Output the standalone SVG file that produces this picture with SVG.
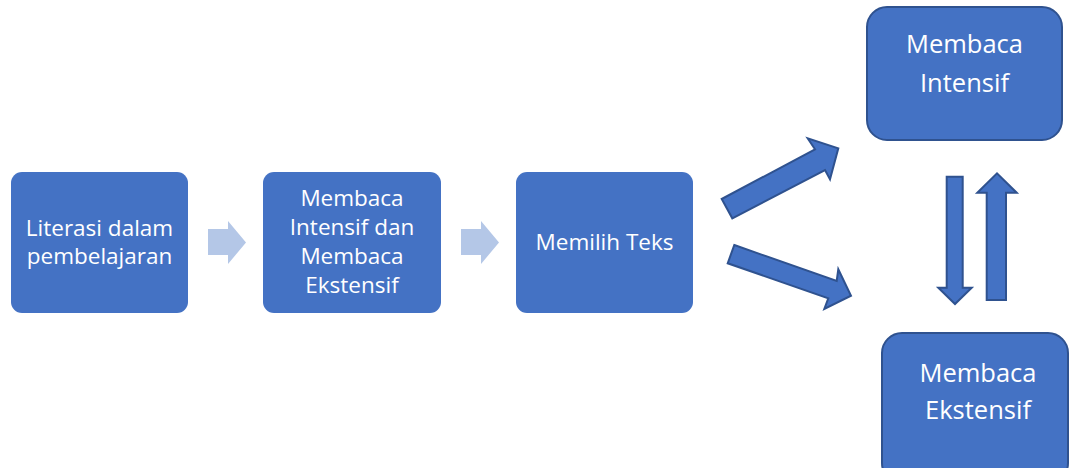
<svg xmlns="http://www.w3.org/2000/svg" width="1070" height="468" viewBox="0 0 1070 468">
<style>
.box{fill:#4472C4;}
.box2{fill:#4472C4;stroke:#2F528F;stroke-width:2;}
.arr{fill:#4472C4;stroke:#2F528F;stroke-width:2;stroke-linejoin:miter;}
.light{fill:#B4C7E7;}
text{font-family:"Open Sans","Noto Sans",sans-serif;fill:#FFFFFF;text-anchor:middle;}
.t1{font-size:22.5px;}
.t2{font-size:25.5px;}
</style>
<rect width="1070" height="468" fill="#FFFFFF"/>
<g id="node-literasi">
<rect class="box" x="11" y="172" width="177" height="141" rx="11"/>
<text class="t1" x="99.5" y="236">Literasi dalam</text>
<text class="t1" x="99.5" y="264">pembelajaran</text>
</g>
<g id="node-intensif-ekstensif">
<rect class="box" x="263" y="172" width="178" height="141" rx="11"/>
<text class="t1" x="352" y="206">Membaca</text>
<text class="t1" x="352" y="235">Intensif dan</text>
<text class="t1" x="352" y="264">Membaca</text>
<text class="t1" x="352" y="293">Ekstensif</text>
</g>
<g id="node-memilih">
<rect class="box" x="516" y="172" width="177" height="141" rx="11"/>
<text class="t1" x="604.5" y="250">Memilih Teks</text>
</g>
<g id="node-intensif">
<rect class="box2" x="867" y="7" width="195" height="133" rx="20"/>
<text class="t2" x="964.5" y="53">Membaca</text>
<text class="t2" x="964.5" y="92">Intensif</text>
</g>
<g id="node-ekstensif">
<rect class="box2" x="882" y="333" width="186" height="150" rx="20"/>
<text class="t2" x="978" y="382">Membaca</text>
<text class="t2" x="978" y="419">Ekstensif</text>
</g>
<g id="connectors">
<polygon class="light" points="208,229 228,229 228,221 246,242.5 228,264 228,255 208,255"/>
<polygon class="light" points="461,229 481,229 481,221 499,242.5 481,264 481,255 461,255"/>
<polygon class="arr" points="721.7,199 815,149.3 807.7,138.3 838.3,148.3 830,179.3 825,170 732.3,218.3"/>
<polygon class="arr" points="734.3,245 836.7,281 838.3,269.3 851,295.7 824.3,309 828.3,298.3 727.7,263.3"/>
<polygon class="arr" points="946.7,176.7 962.7,176.7 962.7,287.7 971.7,287.7 955,304 938.3,287.7 946.7,287.7"/>
<polygon class="arr" points="986.7,300 1006,300 1006,192.7 1016.7,192.7 997,173.3 977.3,192.7 986.7,192.7"/>
</g>
</svg>
